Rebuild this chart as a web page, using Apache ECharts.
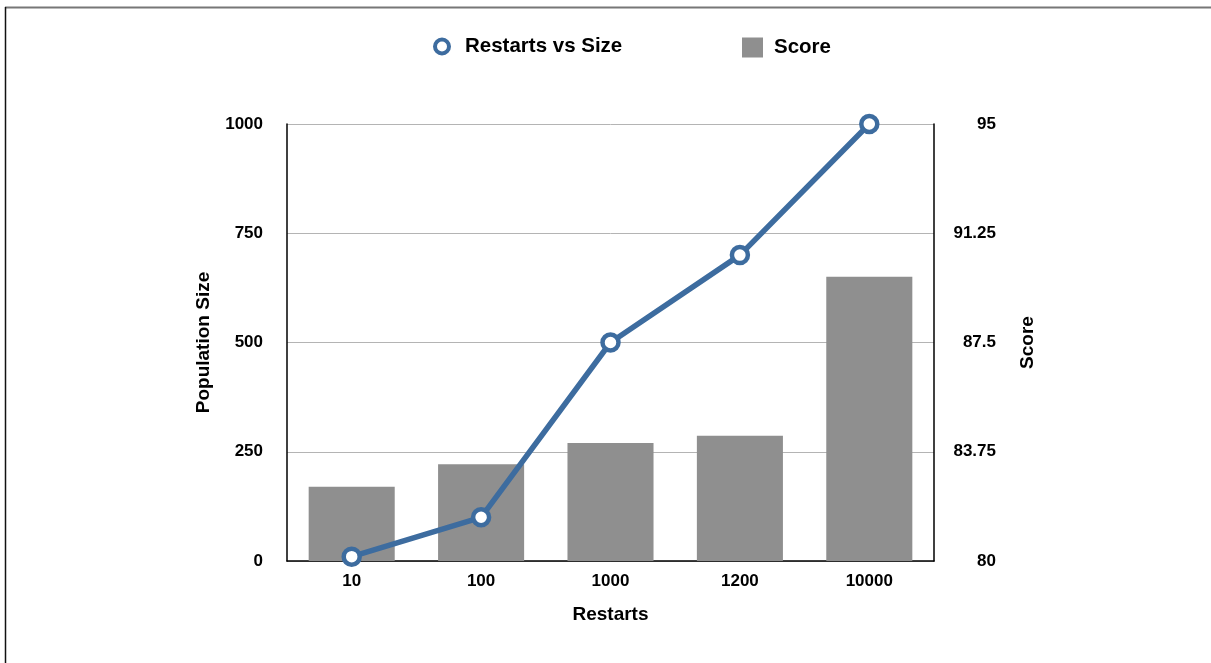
<!DOCTYPE html>
<html>
<head>
<meta charset="utf-8">
<title>Restarts vs Size</title>
<script src="https://cdn.jsdelivr.net/npm/echarts@6/dist/echarts.min.js"></script>
<style>
  html, body { margin: 0; padding: 0; background: #fff; }
  #chart { width: 1211px; height: 663px; }
</style>
</head>
<body>
<div id="chart"></div>
<script>
// Restart counts along the x axis
const restarts = ['10', '100', '1000', '1200', '10000'];
// Population size for each restart count (left axis)
const populationSize = [10, 100, 500, 700, 1000];
// Score for each restart count (right axis)
const scores = [82.55, 83.32, 84.05, 84.3, 89.76];

const BLUE = '#3d6c9f';
const GREY = '#8f8f8f';
const FONT = '"Liberation Sans", Arial, Helvetica, sans-serif';

const chart = echarts.init(document.getElementById('chart'), null, { renderer: 'canvas' });

chart.setOption({
  animation: false,
  backgroundColor: '#fff',
  textStyle: { fontFamily: FONT },
  graphic: [
    // page frame
    { type: 'line', shape: { x1: 5, y1: 7.5, x2: 1211, y2: 7.5 }, style: { stroke: '#777', lineWidth: 2 } },
    { type: 'line', shape: { x1: 5.5, y1: 7, x2: 5.5, y2: 663 }, style: { stroke: '#111', lineWidth: 1.5 } }
  ],
  legend: [
    {
      data: ['Restarts vs Size'],
      left: 428, top: 31,
      icon: 'circle',
      itemWidth: 14, itemHeight: 14,
      itemGap: 10,
      itemStyle: { color: '#fff', borderColor: BLUE, borderWidth: 4 },
      textStyle: { fontSize: 20.5, fontWeight: 'bold', color: '#000', fontFamily: FONT, padding: [0, 0, 0, 11] }
    },
    {
      data: ['Score'],
      left: 737, top: 32,
      icon: 'rect',
      itemWidth: 21, itemHeight: 20,
      itemStyle: { color: GREY },
      textStyle: { fontSize: 20.5, fontWeight: 'bold', color: '#000', fontFamily: FONT, padding: [0, 0, 0, 6] }
    }
  ],
  grid: { left: 287, right: 277, top: 124, bottom: 102, containLabel: false },
  xAxis: {
    type: 'category',
    data: restarts,
    name: 'Restarts',
    nameLocation: 'middle',
    nameGap: 44,
    nameTextStyle: { fontSize: 19, fontWeight: 'bold', color: '#000', fontFamily: FONT },
    axisLine: { lineStyle: { color: '#000', width: 1.5 } },
    axisTick: { show: false },
    axisLabel: { fontSize: 17, fontWeight: 'bold', color: '#000', margin: 12, fontFamily: FONT }
  },
  yAxis: [
    {
      type: 'value',
      min: 0, max: 1000, interval: 250,
      name: 'Population Size',
      nameLocation: 'middle',
      nameRotate: 90,
      nameGap: 74,
      nameTextStyle: { fontSize: 19, fontWeight: 'bold', color: '#000', fontFamily: FONT },
      axisLine: { show: true, lineStyle: { color: '#000', width: 1.5 } },
      axisTick: { show: false },
      axisLabel: {
        fontSize: 17, fontWeight: 'bold', color: '#000', margin: 24, fontFamily: FONT,
        formatter: (v) => String(v)
      },
      splitLine: { show: true, lineStyle: { color: '#b4b4b4', width: 1 } }
    },
    {
      type: 'value',
      position: 'right',
      min: 80, max: 95,
      alignTicks: true,
      name: 'Score',
      nameLocation: 'middle',
      nameRotate: 90,
      nameGap: 84,
      nameTextStyle: { fontSize: 19, fontWeight: 'bold', color: '#000', fontFamily: FONT },
      axisLine: { show: true, lineStyle: { color: '#000', width: 1.5 } },
      axisTick: { show: false },
      axisLabel: { fontSize: 17, fontWeight: 'bold', color: '#000', margin: 62, align: 'right', fontFamily: FONT },
      splitLine: { show: false }
    }
  ],
  series: [
    {
      name: 'Score',
      type: 'bar',
      yAxisIndex: 1,
      data: scores,
      barWidth: '66.5%',
      itemStyle: { color: GREY },
      z: 2
    },
    {
      name: 'Restarts vs Size',
      type: 'line',
      yAxisIndex: 0,
      data: populationSize,
      symbol: 'circle',
      symbolSize: 16,
      lineStyle: { color: BLUE, width: 5.5 },
      itemStyle: { color: '#fff', borderColor: BLUE, borderWidth: 4.5 },
      z: 3
    }
  ]
});
</script>
</body>
</html>
